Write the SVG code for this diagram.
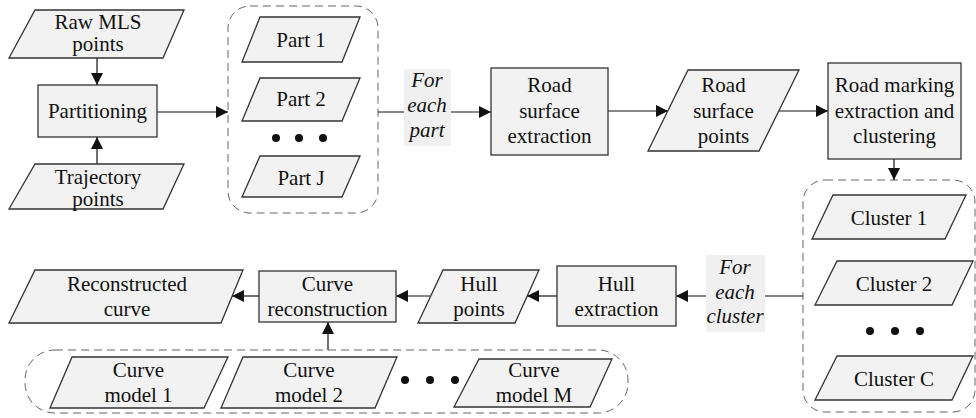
<svg xmlns="http://www.w3.org/2000/svg" width="976" height="418" viewBox="0 0 976 418">
<defs>
<style>
.n{fill:#f2f2f2;stroke:#333;stroke-width:1.3}
.g{fill:none;stroke:#666;stroke-width:1;stroke-dasharray:8 5}
.c{fill:none;stroke:#111;stroke-width:1.2}
.t{font-family:"Liberation Serif","Times New Roman",serif;font-size:21px;fill:#111;text-anchor:middle}
.i{font-style:italic}
.lb{fill:#f0f0f0;stroke:none}
.d{fill:#111}
</style>
<marker id="ah" markerUnits="userSpaceOnUse" markerWidth="12" markerHeight="12" refX="12" refY="6" orient="auto">
<path d="M0,0 L12,6 L0,12 z" fill="#111"/>
</marker>
</defs>
<rect width="976" height="418" fill="#fff"/>

<g id="group-parts"><rect class="g" x="228" y="6" width="150" height="207" rx="22"/></g>
<g id="group-clusters"><rect class="g" x="803" y="180" width="172" height="232" rx="22"/></g>
<g id="group-models"><rect class="g" x="25" y="350" width="603" height="63" rx="30"/></g>

<g id="connectors">
<line class="c" x1="97" y1="58" x2="97" y2="85" marker-end="url(#ah)"/>
<line class="c" x1="97" y1="164" x2="97" y2="137" marker-end="url(#ah)"/>
<line class="c" x1="157" y1="112" x2="228" y2="112" marker-end="url(#ah)"/>
<line class="c" x1="378" y1="112" x2="491" y2="112" marker-end="url(#ah)"/>
<line class="c" x1="608" y1="111" x2="668" y2="111" marker-end="url(#ah)"/>
<line class="c" x1="779" y1="111" x2="828" y2="111" marker-end="url(#ah)"/>
<line class="c" x1="894" y1="159" x2="894" y2="180" marker-end="url(#ah)"/>
<line class="c" x1="803" y1="296" x2="676" y2="296" marker-end="url(#ah)"/>
<line class="c" x1="557" y1="296" x2="527" y2="296" marker-end="url(#ah)"/>
<line class="c" x1="430" y1="296" x2="396" y2="296" marker-end="url(#ah)"/>
<line class="c" x1="259" y1="296" x2="232" y2="296" marker-end="url(#ah)"/>
<line class="c" x1="328" y1="350" x2="328" y2="322" marker-end="url(#ah)"/>
<g id="label-each-part">
<rect class="lb" x="404" y="69" width="47" height="77"/>
<text class="t i" x="427" y="87">For</text>
<text class="t i" x="427" y="112">each</text>
<text class="t i" x="427" y="137">part</text>
</g>
<g id="label-each-cluster">
<rect class="lb" x="706" y="255" width="59" height="77"/>
<text class="t i" x="735" y="274">For</text>
<text class="t i" x="735" y="299">each</text>
<text class="t i" x="735" y="323">cluster</text>
</g>
</g>

<g id="raw-mls">
<polygon class="n" points="35,10 184,10 163,58 9,58"/>
<text class="t" x="98" y="29">Raw MLS</text>
<text class="t" x="98" y="51">points</text>
</g>
<g id="partitioning">
<rect class="n" x="38" y="85" width="119" height="52"/>
<text class="t" x="97.5" y="118">Partitioning</text>
</g>
<g id="trajectory">
<polygon class="n" points="35,164 184,164 163,209 9,209"/>
<text class="t" x="98" y="184">Trajectory</text>
<text class="t" x="98" y="206">points</text>
</g>

<g id="part1">
<polygon class="n" points="260,17 360,17 342,62 242,62"/>
<text class="t" x="301" y="47">Part 1</text>
</g>
<g id="part2">
<polygon class="n" points="260,78 360,78 342,121 242,121"/>
<text class="t" x="301" y="106">Part 2</text>
</g>
<g id="parts-dots">
<circle class="d" cx="276" cy="138" r="4"/>
<circle class="d" cx="299" cy="138" r="4"/>
<circle class="d" cx="323" cy="138" r="4"/>
</g>
<g id="partJ">
<polygon class="n" points="260,156 360,156 342,197 242,197"/>
<text class="t" x="301" y="185">Part J</text>
</g>

<g id="road-surface-extraction">
<rect class="n" x="491" y="68" width="117" height="87"/>
<text class="t" x="549.5" y="92">Road</text>
<text class="t" x="549.5" y="118">surface</text>
<text class="t" x="549.5" y="143">extraction</text>
</g>
<g id="road-surface-points">
<polygon class="n" points="688,70 799,70 759,151 648,151"/>
<text class="t" x="723.5" y="92">Road</text>
<text class="t" x="723.5" y="118">surface</text>
<text class="t" x="723.5" y="143">points</text>
</g>
<g id="road-marking">
<rect class="n" x="828" y="63" width="133" height="96"/>
<text class="t" x="894.5" y="92">Road marking</text>
<text class="t" x="894.5" y="118">extraction and</text>
<text class="t" x="894.5" y="143">clustering</text>
</g>

<g id="cluster1">
<polygon class="n" points="833,195 966,195 945,239 812,239"/>
<text class="t" x="889" y="225">Cluster 1</text>
</g>
<g id="cluster2">
<polygon class="n" points="837,261 973,261 952,305 815,305"/>
<text class="t" x="894" y="291">Cluster 2</text>
</g>
<g id="cluster-dots">
<circle class="d" cx="870" cy="331" r="4"/>
<circle class="d" cx="895" cy="331" r="4"/>
<circle class="d" cx="920" cy="331" r="4"/>
</g>
<g id="clusterC">
<polygon class="n" points="837,356 973,356 952,400 815,400"/>
<text class="t" x="894" y="386">Cluster C</text>
</g>

<g id="hull-extraction">
<rect class="n" x="557" y="266" width="119" height="60"/>
<text class="t" x="616.5" y="291">Hull</text>
<text class="t" x="616.5" y="316">extraction</text>
</g>
<g id="hull-points">
<polygon class="n" points="443,270 539,270 515,323 418,323"/>
<text class="t" x="479" y="291">Hull</text>
<text class="t" x="479" y="316">points</text>
</g>
<g id="curve-reconstruction">
<rect class="n" x="259" y="271" width="137" height="51"/>
<text class="t" x="327.5" y="291">Curve</text>
<text class="t" x="327.5" y="316">reconstruction</text>
</g>
<g id="reconstructed-curve">
<polygon class="n" points="35,270 243,270 221,323 9,323"/>
<text class="t" x="127" y="291">Reconstructed</text>
<text class="t" x="127" y="316">curve</text>
</g>

<g id="curve-model-1">
<polygon class="n" points="72,357 228,357 204,408 50,408"/>
<text class="t" x="138.5" y="377">Curve</text>
<text class="t" x="138.5" y="402">model 1</text>
</g>
<g id="curve-model-2">
<polygon class="n" points="243,357 397,357 375,408 221,408"/>
<text class="t" x="309" y="377">Curve</text>
<text class="t" x="309" y="402">model 2</text>
</g>
<g id="model-dots">
<circle class="d" cx="405" cy="380" r="4"/>
<circle class="d" cx="430" cy="380" r="4"/>
<circle class="d" cx="455" cy="380" r="4"/>
</g>
<g id="curve-model-M">
<polygon class="n" points="479,359 612,359 590,407 454,407"/>
<text class="t" x="534" y="377">Curve</text>
<text class="t" x="534" y="402">model M</text>
</g>
</svg>
